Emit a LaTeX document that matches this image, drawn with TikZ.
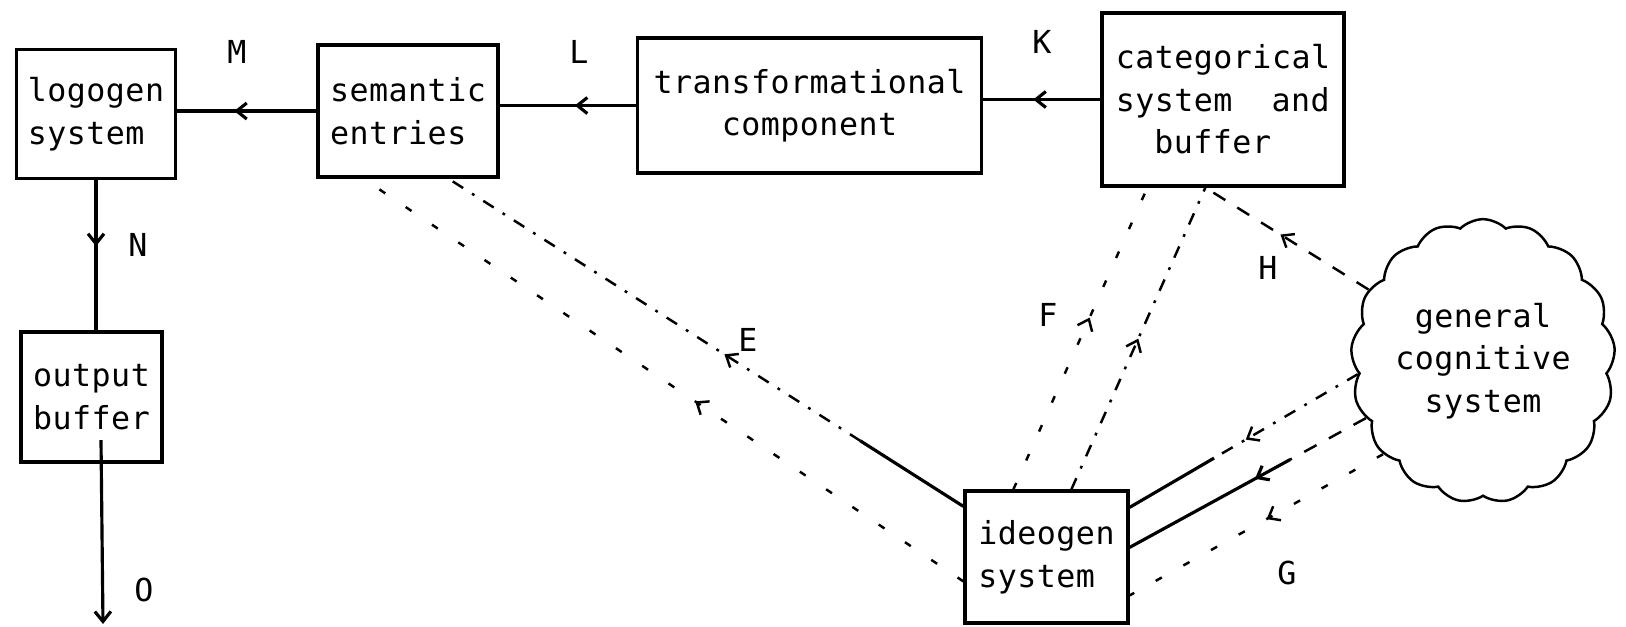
\documentclass[tikz,border=0pt]{standalone}
\usepackage{fontspec}
\newfontfamily\plotfont[LetterSpace=1.5]{DejaVu Sans Mono}
\usetikzlibrary{shapes.symbols,decorations.markings,arrows.meta,calc}
\begin{document}
\begin{tikzpicture}[x=0.01cm,y=-0.01cm,
  txt/.style={font=\plotfont\fontsize{9pt}{12.1pt}\selectfont},
  box/.style={txt,draw,line width=0.9pt,inner sep=0pt,align=left},
  lbl/.style={txt,inner sep=0pt},
  midarrow/.style={postaction={decorate,decoration={markings,mark=at position #1 with {\arrow{Straight Barb[length=1mm,width=1.6mm]}}}}},
  solidarrow/.style={line width=0.9pt},
  dashdot/.style={line width=0.7pt,dash pattern=on 3.5pt off 3pt on 0.8pt off 3pt},
  dashedline/.style={line width=0.7pt,dash pattern=on 4pt off 4pt},
  sparse/.style={line width=0.7pt,dash pattern=on 2pt off 7pt}]
\useasboundingbox (0,0) rectangle (1626,626);

% boxes
\node[box,minimum width=1.59cm,minimum height=1.29cm] (logo) at (96,114) {logogen\\system};
\node[box,minimum width=1.80cm,minimum height=1.32cm] (sem) at (408,111) {semantic\\entries};
\node[box,align=center,minimum width=3.43cm,minimum height=1.35cm] (trans) at (809.5,105.5) {transformational\\component};
\node[box,minimum width=2.42cm,minimum height=1.73cm] (cat) at (1223,99.5) {categorical\\system\ \ and\\\phantom{bu}buffer};
\node[box,align=center,minimum width=1.41cm,minimum height=1.30cm] (out) at (91.5,397) {output\\buffer};
\node[box,minimum width=1.63cm,minimum height=1.32cm] (ideo) at (1046.5,557) {ideogen\\system};
\node[txt,cloud,draw,cloud puffs=17,cloud puff arc=90,aspect=0.92,minimum width=2.5cm,minimum height=2.72cm,inner sep=0pt,line width=0.7pt,align=center] (gcs) at (1483,361) {general\\cognitive\\system};

% labels
\node[lbl] (lK) at (1042,42) {K};
\node[lbl] (lL) at (579,52) {L};
\node[lbl] (lM) at (237,52) {M};
\node[lbl] (lN) at (138,245) {N};
\node[lbl] (lO) at (144,590) {O};
\node[lbl] (lE) at (748,340) {E};
\node[lbl] (lF) at (1048,315) {F};
\node[lbl] (lH) at (1268,268) {H};
\node[lbl] (lG) at (1287,573) {G};

% main chain
\draw[solidarrow,midarrow=0.57] (cat.west) -- (cat.west -| trans.east);
\draw[solidarrow,midarrow=0.45] (trans.west) -- (trans.west -| sem.east);
\draw[solidarrow,midarrow=0.59] (sem.west) -- (sem.west -| logo.east);
\draw[solidarrow,midarrow=0.44] (logo.south) -- (logo.south |- out.north);
\coordinate (ostart) at (101,440);
\coordinate (oend) at (103,624);
\draw[solidarrow,-{Straight Barb[length=1mm,width=1.6mm]}] (ostart) -- (oend);

% attachment points
\coordinate (e1i) at ($(ideo.north west)+(0,17)$);
\coordinate (e1s) at ($(sem.south west)+(132,0)$);
\coordinate (e2i) at ($(ideo.north west)+(0,92)$);
\coordinate (e2s) at ($(sem.south west)+(47,0)$);
\coordinate (f1i) at ($(ideo.north west)+(108,0)$);
\coordinate (hcat) at ($(cat.south west)+(105,0)$);
\coordinate (f2i) at ($(ideo.north west)+(50,0)$);
\coordinate (f2c) at ($(cat.south west)+(47,0)$);
\coordinate (g1i) at ($(ideo.north east)+(0,18)$);
\coordinate (g2i) at ($(ideo.north east)+(0,58)$);
\coordinate (g3i) at ($(ideo.north east)+(0,106)$);

% E
\path (e1i) -- (e1s) coordinate[pos=0.2] (e1m);
\draw[solidarrow] (e1i) -- (e1m);
\draw[dashdot,midarrow=0.33] (e1m) -- (e1s);
\draw[sparse,midarrow=0.447] (e2i) -- (e2s);
% F
\draw[dashdot,midarrow=0.5] (f1i) -- (hcat);
\draw[sparse,midarrow=0.57] (f2i) -- (f2c);
% H
\draw[dashedline,midarrow=0.54] (gcs) -- (hcat);
% G
\path (gcs.186) -- (g1i) coordinate[pos=0.63] (g1m);
\draw[dashdot,midarrow=0.78] (gcs.186) -- (g1m);
\draw[solidarrow] (g1m) -- (g1i);
\path (gcs.206) -- (g2i) coordinate[pos=0.32] (g2m);
\draw[dashedline] (gcs.206) -- (g2m);
\draw[solidarrow,midarrow=0.22] (g2m) -- (g2i);
\draw[sparse,midarrow=0.46] (gcs.223) -- (g3i);
\end{tikzpicture}
\end{document}
